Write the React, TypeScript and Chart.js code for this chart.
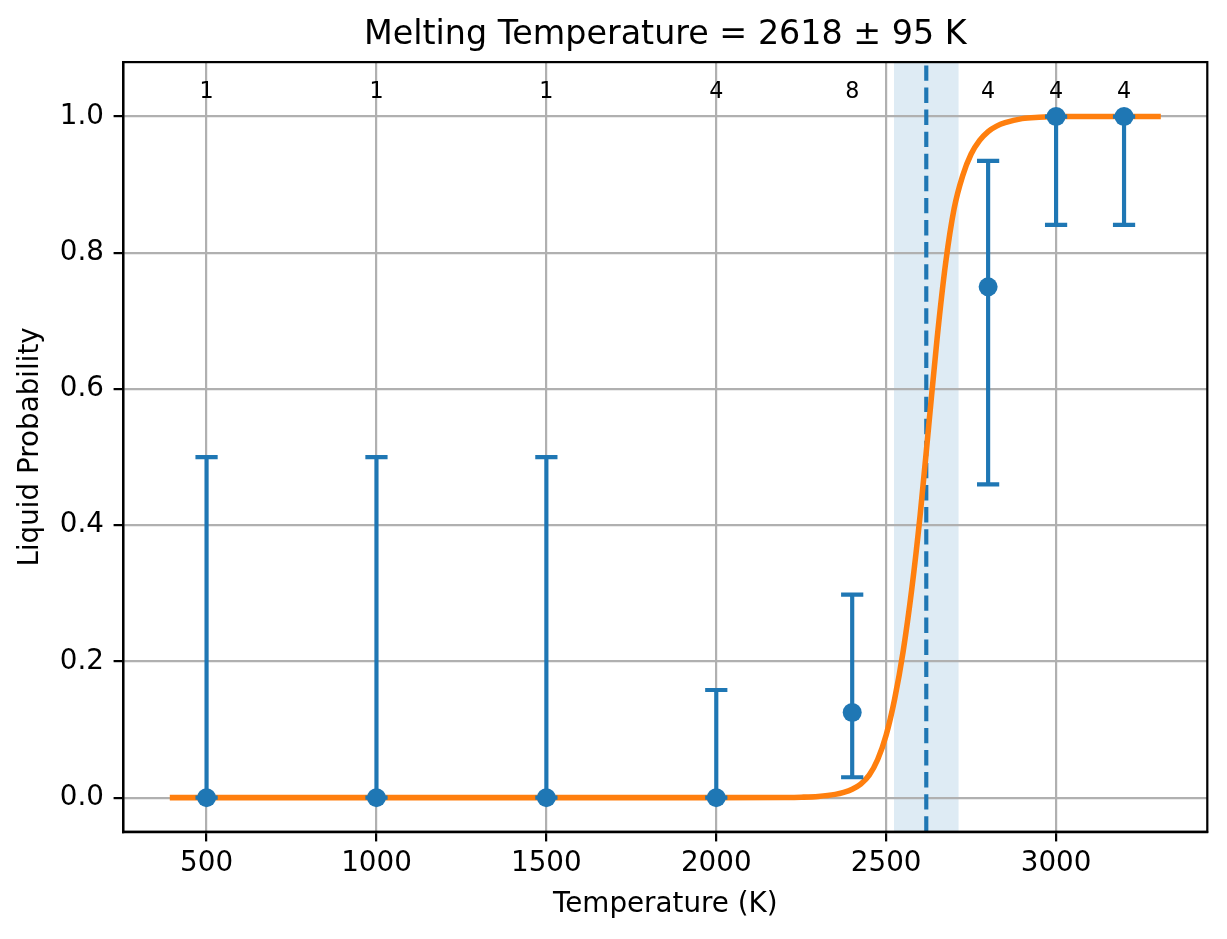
import { useEffect, useRef } from "react";
import { Chart, registerables } from "chart.js";

Chart.register(...registerables);

// measured points (temperature, liquid fraction) with their error bars
const temps = [500, 1000, 1500, 2000, 2400, 2800, 3000, 3200];
const probs = [0, 0, 0, 0, 0.125, 0.75, 1, 1];
const errLow = [0, 0, 0, 0, 0.03, 0.46, 0.841, 0.841];
const errHigh = [0.5, 0.5, 0.5, 0.158, 0.298, 0.935, 1, 1];
const counts = [1, 1, 1, 4, 8, 4, 4, 4];

// fitted curve
const fitT = [400, 2000, 2200, 2250, 2300, 2350, 2375, 2400, 2425, 2450, 2475, 2500, 2525, 2550, 2575, 2600, 2625, 2650, 2675, 2700, 2725, 2750, 2775, 2800, 2825, 2850, 2900, 2950, 3000, 3300];
const fitP = [0, 0, 0.0003, 0.0007, 0.0018, 0.0048, 0.0078, 0.0125, 0.02, 0.033, 0.056, 0.092, 0.145, 0.215, 0.305, 0.415, 0.545, 0.675, 0.785, 0.865, 0.913, 0.945, 0.965, 0.978, 0.986, 0.991, 0.997, 0.999, 1, 1];

const meltT = 2618;
const meltErr = 95;

const xTicks = [500, 1000, 1500, 2000, 2500, 3000];
const yTicks = [0, 0.2, 0.4, 0.6, 0.8, 1.0];

const PT = 200 / 72; // points -> px
const BLUE = "#1f77b4";
const ORANGE = "#ff7f0e";
const FONT = "'DejaVu Sans'";
const X_MIN = 255;
const X_MAX = 3445;
const Y_MIN = -0.05;
const Y_MAX = 1.08;
const COUNT_Y = 1.036;

const decor = {
  id: "decor",
  beforeDraw(chart: any) {
    const { ctx, chartArea: a, scales } = chart;
    ctx.save();
    ctx.fillStyle = "#fff";
    ctx.fillRect(0, 0, chart.width, chart.height);
    const x0 = scales.x.getPixelForValue(meltT - meltErr);
    const x1 = scales.x.getPixelForValue(meltT + meltErr);
    ctx.fillStyle = "rgba(31, 119, 180, 0.15)";
    ctx.fillRect(x0, a.top, x1 - x0, a.bottom - a.top);
    ctx.restore();
  },
  afterDatasetDraw(chart: any, args: any) {
    if (args.index !== 1) return;
    const { ctx, scales } = chart;
    const cap = 4 * PT;
    ctx.save();
    ctx.strokeStyle = BLUE;
    ctx.lineWidth = 1.5 * PT;
    temps.forEach((t, i) => {
      const x = scales.x.getPixelForValue(t);
      const y0 = scales.y.getPixelForValue(errLow[i]);
      const y1 = scales.y.getPixelForValue(errHigh[i]);
      ctx.beginPath();
      ctx.moveTo(x, y0);
      ctx.lineTo(x, y1);
      ctx.moveTo(x - cap, y0);
      ctx.lineTo(x + cap, y0);
      ctx.moveTo(x - cap, y1);
      ctx.lineTo(x + cap, y1);
      ctx.stroke();
    });
    ctx.restore();
  },
  afterDraw(chart: any) {
    const { ctx, chartArea: a, scales } = chart;
    ctx.save();
    ctx.fillStyle = "#000";
    ctx.font = `${8 * PT}px ${FONT}`;
    ctx.textAlign = "center";
    ctx.textBaseline = "middle";
    temps.forEach((t, i) => {
      ctx.fillText(String(counts[i]), scales.x.getPixelForValue(t), scales.y.getPixelForValue(COUNT_Y));
    });
    ctx.strokeStyle = "#000";
    ctx.lineWidth = 0.8 * PT;
    ctx.strokeRect(a.left, a.top, a.right - a.left, a.bottom - a.top);
    ctx.restore();
  },
};

const App = () => {
  const canvasRef: any = useRef(null);

  useEffect(() => {
    document.body.style.margin = "0";
    Chart.defaults.font.family = FONT;
    const ctx = canvasRef.current.getContext("2d");

    const gridOpts = {
      color: "#b0b0b0",
      lineWidth: 0.8 * PT,
      tickColor: "#000",
      tickWidth: 0.8 * PT,
      tickLength: 3.5 * PT,
    };

    const chart = new Chart(ctx, {
      type: "scatter",
      data: {
        datasets: [
          {
            label: "data",
            data: temps.map((t, i) => ({ x: t, y: probs[i] })),
            backgroundColor: BLUE,
            pointRadius: 9.5,
            pointBorderWidth: 0,
          },
          {
            label: "fit",
            data: fitT.map((t, i) => ({ x: t, y: fitP[i] })),
            showLine: true,
            borderColor: ORANGE,
            borderWidth: 2 * PT,
            borderCapStyle: "square",
            cubicInterpolationMode: "monotone",
            pointRadius: 0,
          },
          {
            label: "melt",
            data: [
              { x: meltT, y: Y_MIN },
              { x: meltT, y: Y_MAX },
            ],
            showLine: true,
            borderColor: BLUE,
            borderWidth: 1.5 * PT,
            borderDash: [3.7 * 1.5 * PT, 1.6 * 1.5 * PT],
            pointRadius: 0,
          },
        ],
      } as any,
      options: {
        animation: false,
        responsive: true,
        maintainAspectRatio: false,
        events: [],
        layout: { padding: { left: 0, right: 19.7, top: 0, bottom: 0 } },
        plugins: {
          legend: { display: false },
          tooltip: { enabled: false },
          title: {
            display: true,
            text: "Melting Temperature = 2618 ± 95 K",
            fullSize: false,
            color: "#000",
            font: { size: 12 * PT, weight: "normal" },
            padding: { top: 15, bottom: 7.1 },
          },
        },
        scales: {
          x: {
            type: "linear",
            min: X_MIN,
            max: X_MAX,
            afterBuildTicks: (s: any) => {
              s.ticks = xTicks.map((value) => ({ value }));
            },
            afterFit: (s: any) => {
              s.height = 107.3;
            },
            ticks: {
              color: "#000",
              font: { size: 10 * PT },
              padding: 6.2,
              maxRotation: 0,
              autoSkip: false,
              callback: (v: any) => String(v),
            },
            grid: gridOpts,
            border: { color: "#000", width: 0.8 * PT },
            title: {
              display: true,
              text: "Temperature (K)",
              color: "#000",
              font: { size: 10 * PT },
              padding: { top: 0, bottom: 17.5 },
            },
          },
          y: {
            type: "linear",
            min: Y_MIN,
            max: Y_MAX,
            afterBuildTicks: (s: any) => {
              s.ticks = yTicks.map((value) => ({ value }));
            },
            afterFit: (s: any) => {
              s.width = 123.3;
            },
            ticks: {
              color: "#000",
              font: { size: 10 * PT },
              padding: 9.7,
              autoSkip: false,
              callback: (v: any) => Number(v).toFixed(1),
            },
            grid: gridOpts,
            border: { color: "#000", width: 0.8 * PT },
            title: {
              display: true,
              text: "Liquid Probability",
              color: "#000",
              font: { size: 10 * PT },
              padding: { top: 14.4, bottom: 0 },
            },
          },
        },
      } as any,
      plugins: [decor],
    });

    return () => {
      chart.destroy();
    };
  }, []);

  return (
    <div style={{ position: "absolute", left: 0, top: 0, width: 1227, height: 939 }}>
      <canvas ref={canvasRef} />
    </div>
  );
};

export default App;
